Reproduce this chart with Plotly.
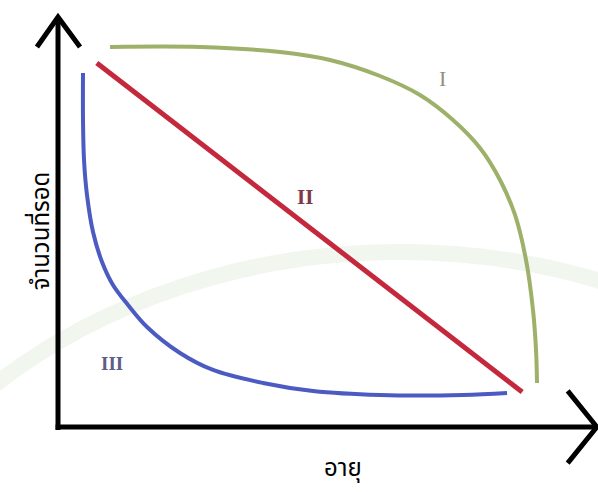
import plotly.graph_objects as go

# Survivorship curves: age (0-100) vs. number of survivors (0-100)
type1_age = [10.86, 29.64, 46.35, 56.78, 67.22, 75.57, 82.46, 88.10, 92.28, 95.41, 97.70, 99.16, 99.79, 100.0]
type1_surv = [100.0, 100.0, 98.68, 96.58, 92.37, 87.37, 80.79, 73.42, 65.0, 55.79, 43.95, 30.79, 20.26, 11.58]

type2_age = [8.1, 96.9]
type2_surv = [95.8, 9.2]

type3_age = [5.22, 5.22, 5.43, 6.05, 7.31, 9.19, 11.48, 14.61, 18.58, 25.47, 32.36, 42.80, 53.24, 67.22, 84.55, 93.74]
type3_surv = [93.16, 80.79, 70.26, 61.05, 51.32, 43.42, 37.37, 32.11, 26.32, 19.47, 15.0, 11.58, 9.47, 8.42, 8.42, 8.95]

curve_names = ["I", "II", "III"]
x_title = "อายุ"
y_title = "จำนวนที่รอด"

GREEN = "#9db16a"
RED = "#c4283c"
BLUE = "#4b5bc2"

fig = go.Figure()
fig.add_trace(go.Scatter(x=type1_age, y=type1_surv, mode="lines",
                         line=dict(color=GREEN, width=4, shape="spline", smoothing=1.0)))
fig.add_trace(go.Scatter(x=type2_age, y=type2_surv, mode="lines",
                         line=dict(color=RED, width=5)))
fig.add_trace(go.Scatter(x=type3_age, y=type3_surv, mode="lines",
                         line=dict(color=BLUE, width=4, shape="spline", smoothing=1.0)))

X_RANGE = [-12.11, 112.73]
Y_RANGE = [-17.11, 112.37]

# faint background emblem ring
fig.add_shape(type="circle", xref="x", yref="y",
              x0=-53.9, x1=196.7, y0=-220.3, y1=46.05,
              line=dict(color="rgb(241,246,239)", width=16), layer="below")

# axes with open arrow heads
ax_col = "black"
x_tip = 112.5
y_tip = 107.9
fig.add_shape(type="path", path=f"M 0 -0.8 L 0 {y_tip}", line=dict(color=ax_col, width=5))
fig.add_shape(type="path", path=f"M -4.4 100 L 0 {y_tip} L 4.6 100", line=dict(color=ax_col, width=5))
fig.add_shape(type="path", path=f"M -0.5 0 L {x_tip} 0", line=dict(color=ax_col, width=5))
fig.add_shape(type="path", path=f"M 106.4 9.5 L {x_tip} 0 L 106.4 -9.5", line=dict(color=ax_col, width=5))

serif = "Liberation Serif, Times New Roman, serif"
fig.add_annotation(x=80.2, y=91.8, text=curve_names[0], showarrow=False,
                   font=dict(family=serif, size=22, color="#8f917f"))
fig.add_annotation(x=51.6, y=60.5, text="<b>" + curve_names[1] + "</b>", showarrow=False,
                   font=dict(family=serif, size=21, color="#7d3a44"))
fig.add_annotation(x=11.3, y=16.8, text="<b>" + curve_names[2] + "</b>", showarrow=False,
                   font=dict(family=serif, size=19, color="#5c5e86"))

thai = "Noto Sans Thai, Noto Sans, DejaVu Sans, sans-serif"
fig.add_annotation(xref="paper", yref="paper", x=0.574, y=0.006, text=x_title,
                   showarrow=False, font=dict(family=thai, size=24, color="black"))
fig.add_annotation(xref="paper", yref="paper", x=0.037, y=0.53, text=y_title,
                   textangle=-90, showarrow=False,
                   font=dict(family=thai, size=24, color="black"))

fig.update_layout(width=598, height=492, margin=dict(l=0, r=0, t=0, b=0),
                  paper_bgcolor="white", plot_bgcolor="white", showlegend=False,
                  xaxis=dict(range=X_RANGE, visible=False, fixedrange=True),
                  yaxis=dict(range=Y_RANGE, visible=False, fixedrange=True))

fig.write_html("out.html")
